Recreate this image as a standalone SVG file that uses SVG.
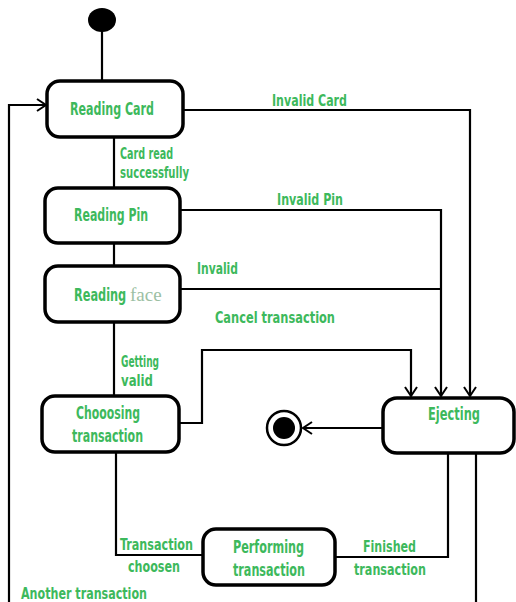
<svg xmlns="http://www.w3.org/2000/svg" width="516" height="602" viewBox="0 0 516 602">
<style>
.box{fill:#fff;stroke:#000;stroke-width:3.5}
.ln{fill:none;stroke:#000;stroke-width:2.2}
.t{font-family:"DejaVu Sans Condensed","Liberation Sans Narrow","Liberation Sans",sans-serif;font-weight:bold;fill:#3db95c}
.n{font-size:18px}
.l{font-size:15px}
</style>
<defs>
<marker id="arr" markerWidth="14" markerHeight="14" refX="11" refY="7" orient="auto" markerUnits="userSpaceOnUse">
<path d="M2,1 L11,7 L2,13" fill="none" stroke="#000" stroke-width="2"/>
</marker>
</defs>
<rect width="516" height="602" fill="#fff"/>
<g id="connectors">
<line class="ln" x1="102" y1="30" x2="102" y2="81"/>
<line class="ln" x1="114" y1="137" x2="114" y2="188"/>
<line class="ln" x1="114" y1="243" x2="114" y2="266"/>
<line class="ln" x1="114" y1="322" x2="114" y2="396"/>
<polyline class="ln" points="183,110 470,110 470,396" marker-end="url(#arr)"/>
<polyline class="ln" points="180,210 441,210 441,396" marker-end="url(#arr)"/>
<line class="ln" x1="180" y1="289" x2="440" y2="289"/>
<polyline class="ln" points="178,423 202,423 202,350 411,350 411,396" marker-end="url(#arr)"/>
<line class="ln" x1="383" y1="428" x2="303" y2="428" marker-end="url(#arr)"/>
<polyline class="ln" points="116,452 116,555 203,555"/>
<polyline class="ln" points="335,557 448,557 448,453"/>
<line class="ln" x1="476" y1="453" x2="476" y2="602"/>
<polyline class="ln" points="9,602 9,105 46,105" marker-end="url(#arr)"/>
</g>
<g id="start"><ellipse cx="102" cy="20" rx="14" ry="12" fill="#000"/></g>
<g id="reading-card"><rect class="box" x="47" y="81" width="136" height="56" rx="13"/>
<text class="t n" x="70" y="115" textLength="84" lengthAdjust="spacingAndGlyphs">Reading Card</text></g>
<g id="reading-pin"><rect class="box" x="45" y="188" width="135" height="55" rx="13"/>
<text class="t n" x="74" y="221" textLength="74" lengthAdjust="spacingAndGlyphs">Reading Pin</text></g>
<g id="reading-face"><rect class="box" x="45" y="266" width="135" height="56" rx="13"/>
<text class="t n" transform="translate(74,301) scale(0.7,1)" x="0" y="0">Reading</text>
<text x="130" y="301" font-family="Liberation Serif,serif" font-size="19" fill="#9cbfa4">face</text></g>
<g id="choosing"><rect class="box" x="42" y="396" width="137" height="56" rx="13"/>
<text class="t n" x="76" y="419" textLength="64" lengthAdjust="spacingAndGlyphs">Chooosing</text>
<text class="t n" x="72" y="442" textLength="71" lengthAdjust="spacingAndGlyphs">transaction</text></g>
<g id="ejecting"><rect class="box" x="383" y="398" width="131" height="55" rx="14"/>
<text class="t n" x="428" y="420" textLength="52" lengthAdjust="spacingAndGlyphs">Ejecting</text></g>
<g id="final"><circle cx="284" cy="428" r="17" fill="#fff" stroke="#000" stroke-width="2.5"/><circle cx="284" cy="428" r="11" fill="#000"/></g>
<g id="performing"><rect class="box" x="203" y="529" width="132" height="56" rx="13"/>
<text class="t n" x="233" y="553" textLength="71" lengthAdjust="spacingAndGlyphs">Performing</text>
<text class="t n" x="233" y="576" textLength="72" lengthAdjust="spacingAndGlyphs">transaction</text></g>
<g id="labels">
<text class="t l" x="120" y="159" textLength="53" lengthAdjust="spacingAndGlyphs">Card read</text>
<text class="t l" x="120" y="178" textLength="69" lengthAdjust="spacingAndGlyphs">successfully</text>
<text class="t l" x="272" y="106" textLength="75" lengthAdjust="spacingAndGlyphs">Invalid Card</text>
<text class="t l" x="277" y="205" textLength="66" lengthAdjust="spacingAndGlyphs">Invalid Pin</text>
<text class="t l" x="197" y="274" textLength="41" lengthAdjust="spacingAndGlyphs">Invalid</text>
<text class="t l" x="215" y="323" textLength="120" lengthAdjust="spacingAndGlyphs">Cancel transaction</text>
<text class="t l" x="121" y="367" textLength="38" lengthAdjust="spacingAndGlyphs">Getting</text>
<text class="t l" x="121" y="386" textLength="32" lengthAdjust="spacingAndGlyphs">valid</text>
<text class="t l" x="120" y="550" textLength="73" lengthAdjust="spacingAndGlyphs">Transaction</text>
<text class="t l" x="128" y="572" textLength="52" lengthAdjust="spacingAndGlyphs">choosen</text>
<text class="t l" x="363" y="552" textLength="53" lengthAdjust="spacingAndGlyphs">Finished</text>
<text class="t l" x="354" y="575" textLength="72" lengthAdjust="spacingAndGlyphs">transaction</text>
<text class="t l" x="21" y="599" textLength="126" lengthAdjust="spacingAndGlyphs">Another transaction</text>
</g>
</svg>
